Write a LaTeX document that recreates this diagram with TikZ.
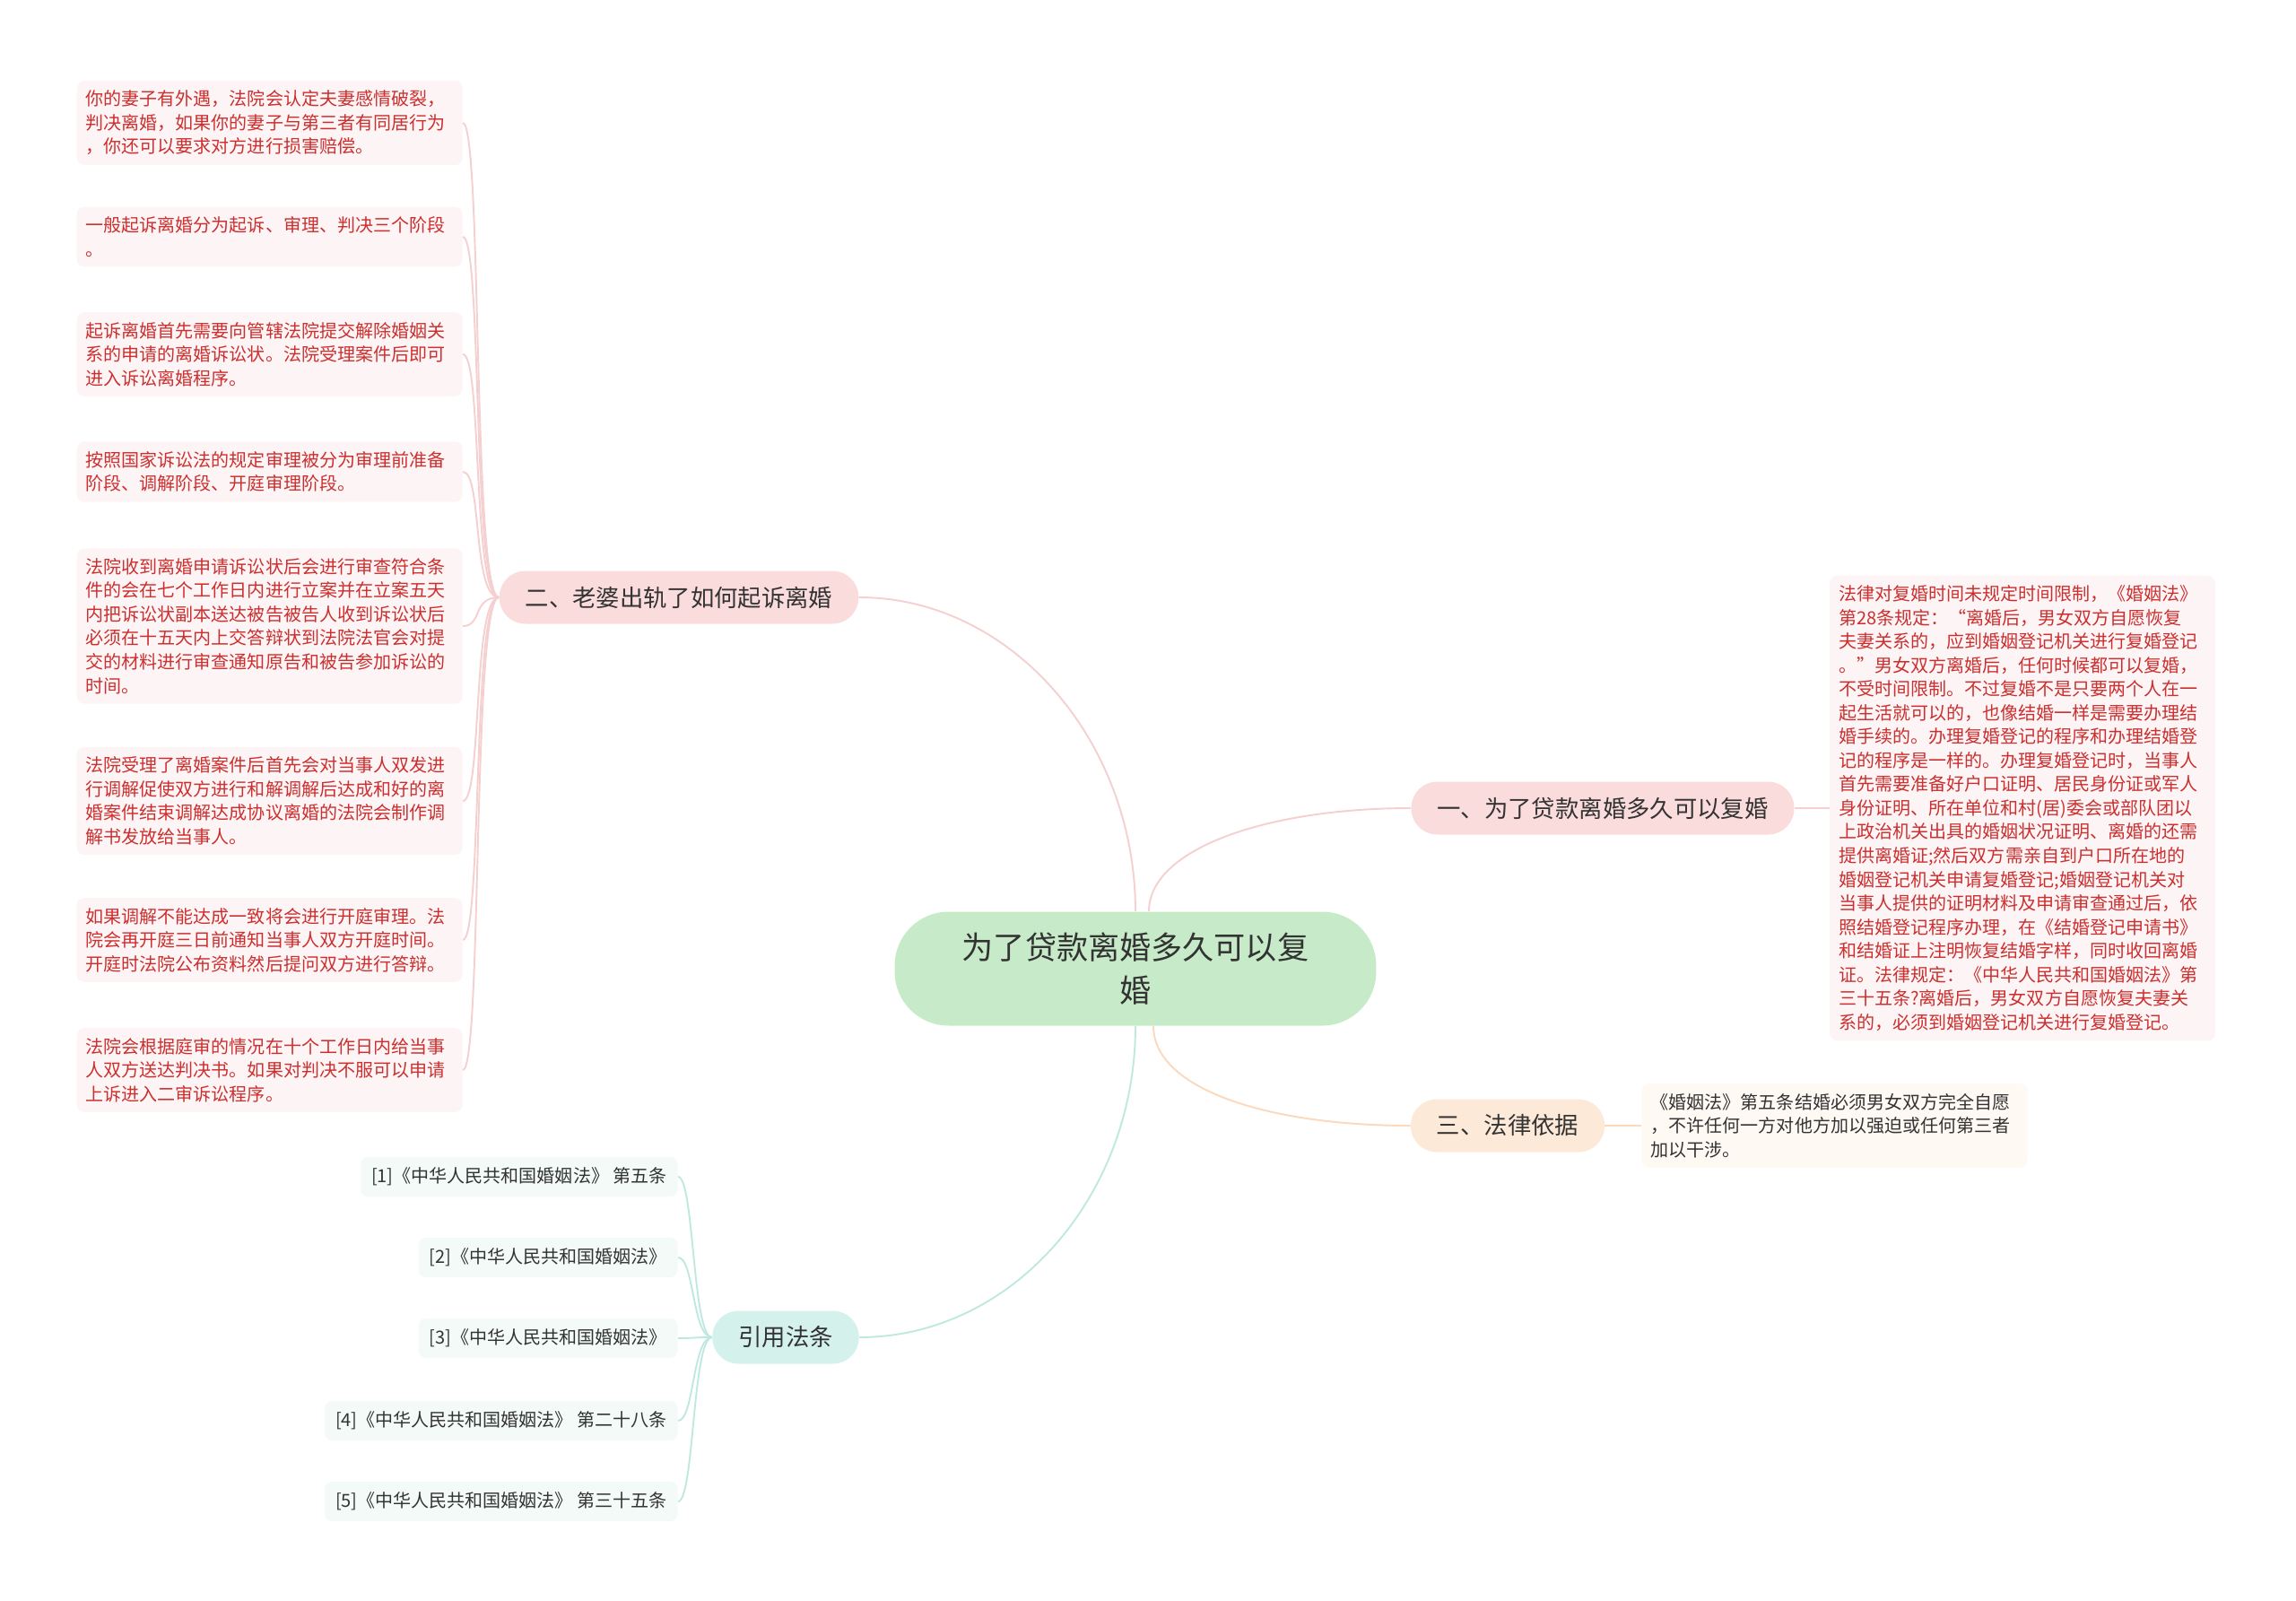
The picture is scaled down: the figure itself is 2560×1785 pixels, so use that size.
\documentclass[tikz,border=0pt]{standalone}
\usepackage{fontspec}
\setmainfont{Noto Sans CJK SC}
\usepackage{xcolor}
\usetikzlibrary{positioning}

\definecolor{rootfill}{HTML}{C7EBC9}
\definecolor{pinkfill}{HTML}{FADCDC}
\definecolor{peachfill}{HTML}{FDE9D8}
\definecolor{tealfill}{HTML}{D4F1EB}
\definecolor{notepink}{HTML}{FDF5F5}
\definecolor{notecream}{HTML}{FEF9F3}
\definecolor{noteteal}{HTML}{F3FAF8}
\definecolor{notered}{HTML}{CC2F2F}
\definecolor{darktext}{HTML}{333333}
\definecolor{pinkedge}{HTML}{F5D0D0}
\definecolor{peachedge}{HTML}{FAD9BC}
\definecolor{tealedge}{HTML}{BFE9E0}

\begin{document}
\begin{tikzpicture}[
    x=0.02cm, y=-0.02cm,
    node distance=0.8cm,
    topic/.style={rectangle, fill=rootfill, text=darktext, align=center, minimum width=10.74cm, minimum height=2.54cm, rounded corners=1.2cm, font=\fontsize{20pt}{26.9pt}\selectfont},
    branch/.style={rectangle, text=darktext, minimum height=1.18cm, inner xsep=0.58cm, rounded corners=0.58cm, font=\fontsize{15pt}{18pt}\selectfont},
    notebox/.style={rectangle, fill=notepink, text=notered, text width=8.2cm, align=left, inner xsep=0.2cm, inner ysep=0.22cm, rounded corners=0.16cm, font=\fontsize{11.4pt}{15.1pt}\selectfont},
    citebox/.style={rectangle, fill=noteteal, text=darktext, inner xsep=0.24cm, minimum height=0.88cm, rounded corners=0.16cm, font=\fontsize{11.4pt}{15.1pt}\selectfont},
    pinkline/.style={draw=pinkedge, line width=1.1pt},
    peachline/.style={draw=peachedge, line width=1.1pt},
    tealline/.style={draw=tealedge, line width=1.1pt}
]
\useasboundingbox (0,0) rectangle (2560,1785);

% Centre and main branches
\node[topic] (root) at (1266,1080) {为了贷款离婚多久可以复\\婚};
\node[branch, fill=pinkfill] (b2) at (757,666) {二、老婆出轨了如何起诉离婚};
\node[branch, fill=pinkfill] (b1) at (1787,901) {一、为了贷款离婚多久可以复婚};
\node[branch, fill=peachfill] (b3) at (1681,1255) {三、法律依据};
\node[branch, fill=tealfill] (cite) at (876,1491) {引用法条};

% Right side notes
\node[notebox, right=0.78cm of b1] (remarry) {法律对复婚时间未规定时间限制，《婚姻法》\\第28条规定：“离婚后，男女双方自愿恢复\\夫妻关系的，应到婚姻登记机关进行复婚登记\\。”男女双方离婚后，任何时候都可以复婚，\\不受时间限制。不过复婚不是只要两个人在一\\起生活就可以的，也像结婚一样是需要办理结\\婚手续的。办理复婚登记的程序和办理结婚登\\记的程序是一样的。办理复婚登记时，当事人\\首先需要准备好户口证明、居民身份证或军人\\身份证明、所在单位和村(居)委会或部队团以\\上政治机关出具的婚姻状况证明、离婚的还需\\提供离婚证;然后双方需亲自到户口所在地的\\婚姻登记机关申请复婚登记;婚姻登记机关对\\当事人提供的证明材料及申请审查通过后，依\\照结婚登记程序办理，在《结婚登记申请书》\\和结婚证上注明恢复结婚字样，同时收回离婚\\证。法律规定：《中华人民共和国婚姻法》第\\三十五条?离婚后，男女双方自愿恢复夫妻关\\系的，必须到婚姻登记机关进行复婚登记。};
\node[notebox, fill=notecream, text=darktext, right=0.82cm of b3] (law) {《婚姻法》第五条结婚必须男女双方完全自愿\\，不许任何一方对他方加以强迫或任何第三者\\加以干涉。};

% Left side notes
\node[notebox, anchor=east] (n1) at (516,137) {你的妻子有外遇，法院会认定夫妻感情破裂，\\判决离婚，如果你的妻子与第三者有同居行为\\，你还可以要求对方进行损害赔偿。};
\node[notebox, anchor=east] (n2) at (516,264) {一般起诉离婚分为起诉、审理、判决三个阶段\\。};
\node[notebox, anchor=east] (n3) at (516,395) {起诉离婚首先需要向管辖法院提交解除婚姻关\\系的申请的离婚诉讼状。法院受理案件后即可\\进入诉讼离婚程序。};
\node[notebox, anchor=east] (n4) at (516,526) {按照国家诉讼法的规定审理被分为审理前准备\\阶段、调解阶段、开庭审理阶段。};
\node[notebox, anchor=east] (n5) at (516,698) {法院收到离婚申请诉讼状后会进行审查符合条\\件的会在七个工作日内进行立案并在立案五天\\内把诉讼状副本送达被告被告人收到诉讼状后\\必须在十五天内上交答辩状到法院法官会对提\\交的材料进行审查通知原告和被告参加诉讼的\\时间。};
\node[notebox, anchor=east] (n6) at (516,893) {法院受理了离婚案件后首先会对当事人双发进\\行调解促使双方进行和解调解后达成和好的离\\婚案件结束调解达成协议离婚的法院会制作调\\解书发放给当事人。};
\node[notebox, anchor=east] (n7) at (516,1048) {如果调解不能达成一致将会进行开庭审理。法\\院会再开庭三日前通知当事人双方开庭时间。\\开庭时法院公布资料然后提问双方进行答辩。};
\node[notebox, anchor=east] (n8) at (516,1193) {法院会根据庭审的情况在十个工作日内给当事\\人双方送达判决书。如果对判决不服可以申请\\上诉进入二审诉讼程序。};

% Cited articles
\node[citebox, anchor=east] (c1) at (756,1312) {[1]《中华人民共和国婚姻法》 第五条};
\node[citebox, anchor=east] (c2) at (756,1402) {[2]《中华人民共和国婚姻法》};
\node[citebox, anchor=east] (c3) at (756,1492) {[3]《中华人民共和国婚姻法》};
\node[citebox, anchor=east] (c4) at (756,1584) {[4]《中华人民共和国婚姻法》 第二十八条};
\node[citebox, anchor=east] (c5) at (756,1674) {[5]《中华人民共和国婚姻法》 第三十五条};

% Connectors from the centre
\draw[pinkline] (b2.east) .. controls +(170,0) and +(0,-190) .. (root.north);
\draw[pinkline] ([xshift=0.3cm]root.north) .. controls +(0,-70) and +(-160,0) .. (b1.west);
\draw[peachline] ([xshift=0.4cm]root.south) .. controls +(0,70) and +(-160,0) .. (b3.west);
\draw[tealline] (root.south) .. controls +(0,190) and +(170,0) .. (cite.east);
\draw[pinkline] (b1) -- (remarry);
\draw[peachline] (b3) -- (law);

% Connectors to left notes
\draw[pinkline] (b2.west) .. controls +(-30,0) and +(22,0) .. (n1.east);
\draw[pinkline] (b2.west) .. controls +(-30,0) and +(22,0) .. (n2.east);
\draw[pinkline] (b2.west) .. controls +(-30,0) and +(22,0) .. (n3.east);
\draw[pinkline] (b2.west) .. controls +(-30,0) and +(22,0) .. (n4.east);
\draw[pinkline] (b2.west) .. controls +(-30,0) and +(22,0) .. (n5.east);
\draw[pinkline] (b2.west) .. controls +(-30,0) and +(22,0) .. (n6.east);
\draw[pinkline] (b2.west) .. controls +(-30,0) and +(22,0) .. (n7.east);
\draw[pinkline] (b2.west) .. controls +(-30,0) and +(22,0) .. (n8.east);

% Connectors to cited articles
\draw[tealline] (cite.west) .. controls +(-22,0) and +(18,0) .. (c1.east);
\draw[tealline] (cite.west) .. controls +(-22,0) and +(18,0) .. (c2.east);
\draw[tealline] (cite.west) .. controls +(-22,0) and +(18,0) .. (c3.east);
\draw[tealline] (cite.west) .. controls +(-22,0) and +(18,0) .. (c4.east);
\draw[tealline] (cite.west) .. controls +(-22,0) and +(18,0) .. (c5.east);

\end{tikzpicture}
\end{document}
